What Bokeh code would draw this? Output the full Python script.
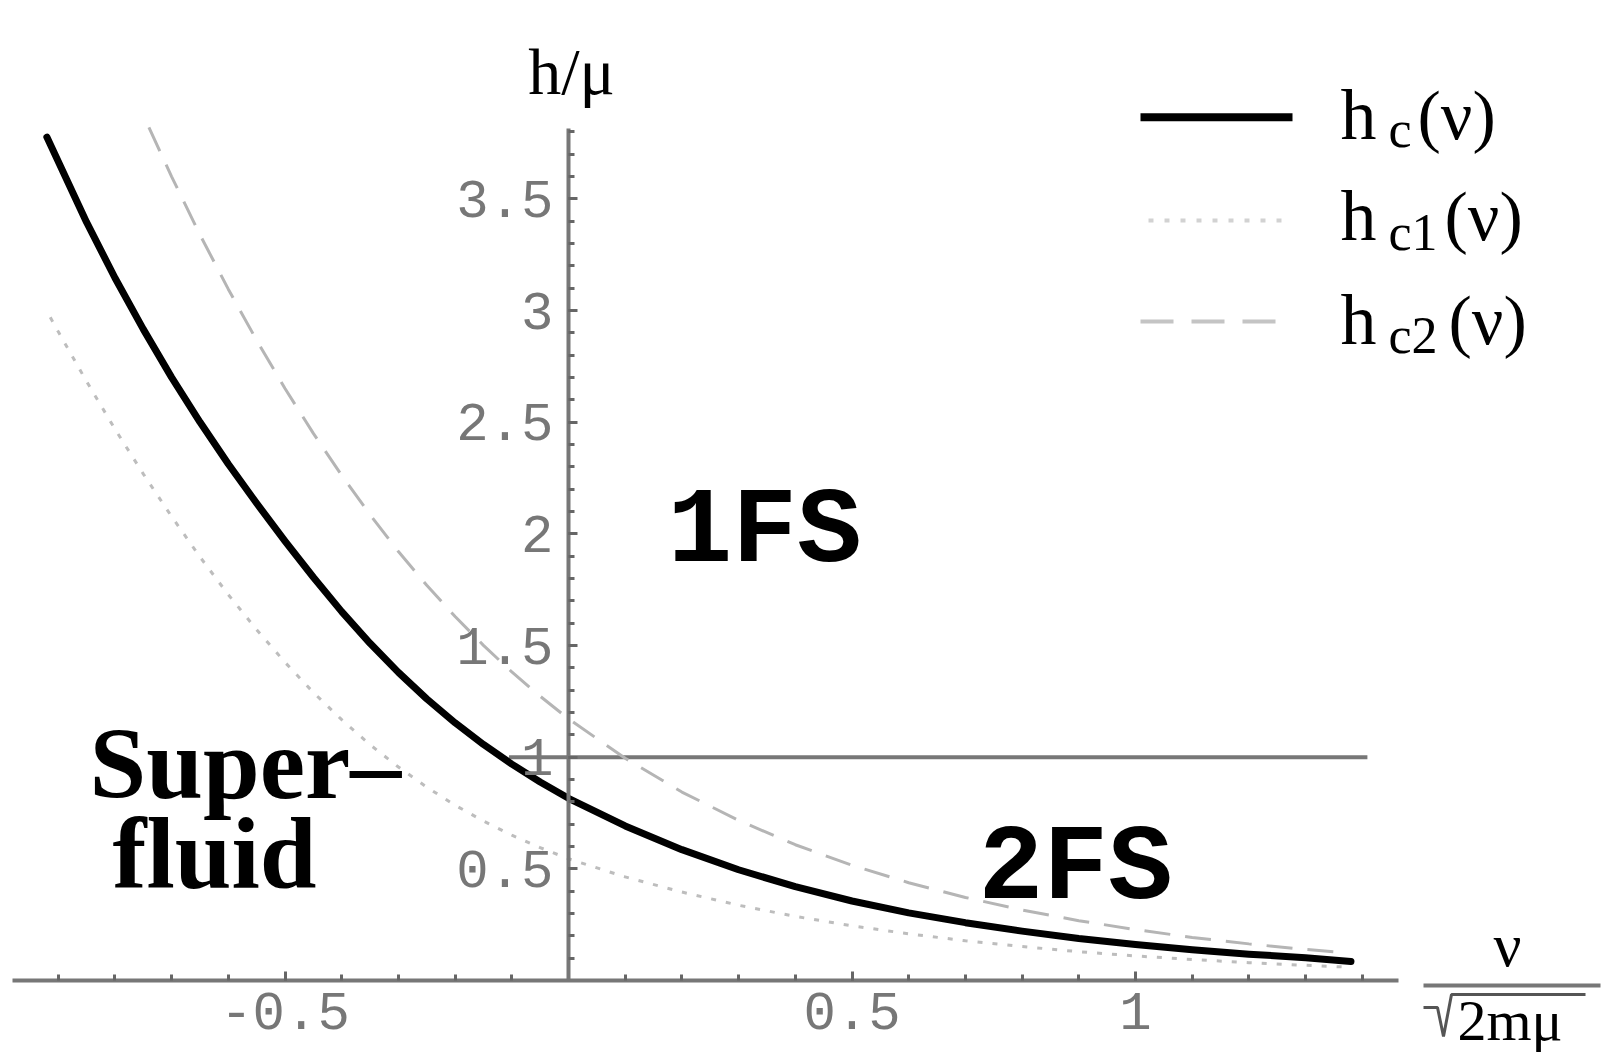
from bokeh.plotting import figure
from bokeh.models import Range1d, FixedTicker, PrintfTickFormatter, Label
from bokeh.embed import file_html
from bokeh.resources import INLINE

# ---------------- data ----------------
# h_c(nu): solid black curve
hc_x = [-0.92, -0.85, -0.80, -0.75, -0.70, -0.65, -0.60, -0.55, -0.50, -0.45, -0.40,
        -0.35, -0.30, -0.25, -0.20, -0.15, -0.10, -0.05, 0.00, 0.10, 0.20, 0.30, 0.40,
        0.50, 0.60, 0.70, 0.80, 0.90, 1.00, 1.10, 1.20, 1.30, 1.38]
hc_y = [3.777, 3.396, 3.147, 2.917, 2.701, 2.501, 2.313, 2.137, 1.968, 1.806, 1.652,
        1.510, 1.380, 1.261, 1.154, 1.057, 0.969, 0.889, 0.816, 0.692, 0.586, 0.496, 0.420,
        0.356, 0.303, 0.259, 0.221, 0.188, 0.161, 0.138, 0.118, 0.102, 0.085]

# h_c1(nu): dotted curve
hc1_x = [-0.914, -0.90, -0.85, -0.80, -0.75, -0.70, -0.65, -0.60, -0.55, -0.50, -0.45,
         -0.40, -0.35, -0.30, -0.25, -0.20, -0.15, -0.10, -0.05, 0.00, 0.10, 0.20, 0.30,
         0.40, 0.50, 0.60, 0.70, 0.80, 0.90, 1.00, 1.10, 1.20, 1.30, 1.373]
hc1_y = [2.970, 2.906, 2.683, 2.470, 2.269, 2.078, 1.897, 1.728, 1.571, 1.425, 1.290,
         1.168, 1.056, 0.956, 0.866, 0.785, 0.714, 0.651, 0.595, 0.545, 0.464, 0.396, 0.337,
         0.287, 0.245, 0.209, 0.178, 0.152, 0.129, 0.110, 0.094, 0.080, 0.068, 0.060]

# h_c2(nu): dashed curve
hc2_x = [-0.74, -0.70, -0.65, -0.60, -0.55, -0.50, -0.45, -0.40, -0.35, -0.30, -0.25,
         -0.20, -0.15, -0.10, -0.05, 0.00, 0.10, 0.20, 0.30, 0.40, 0.50, 0.60, 0.70,
         0.80, 0.90, 1.00, 1.10, 1.20, 1.30, 1.362]
hc2_y = [3.820, 3.600, 3.340, 3.096, 2.867, 2.651, 2.450, 2.262, 2.086, 1.921, 1.770,
         1.630, 1.501, 1.382, 1.273, 1.172, 0.995, 0.844, 0.717, 0.608, 0.516, 0.438, 0.372,
         0.316, 0.268, 0.228, 0.193, 0.164, 0.139, 0.126]

# h = mu boundary line
hmu_x = [-0.105, 1.409]
hmu_y = [1.0, 1.0]

x_ticks = [-0.5, 0.5, 1]
x_minor = [-0.9, -0.8, -0.7, -0.6, -0.5, -0.4, -0.3, -0.2, -0.1, 0.1, 0.2, 0.3, 0.4,
           0.5, 0.6, 0.7, 0.8, 0.9, 1.0, 1.1, 1.2, 1.3, 1.4]
y_ticks = [0.5, 1, 1.5, 2, 2.5, 3, 3.5]
y_minor = [0.1, 0.2, 0.3, 0.4, 0.5, 0.6, 0.7, 0.8, 0.9, 1.0, 1.1, 1.2, 1.3, 1.4, 1.5,
           1.6, 1.7, 1.8, 1.9, 2.0, 2.1, 2.2, 2.3, 2.4, 2.5, 2.6, 2.7, 2.8, 2.9, 3.0,
           3.1, 3.2, 3.3, 3.4, 3.5, 3.6, 3.7, 3.8]

legend_labels = [("h", "c", "(ν)"), ("h", "c1", "(ν)"), ("h", "c2", "(ν)")]

W, H = 1608, 1059


# helpers: reference pixel -> data (used only to place annotations)
def X(px):
    return (px - 568.0) / 567.0


def Y(py):
    return (980.0 - py) / 223.3


p = figure(width=W, height=H, output_backend="svg", toolbar_location=None,
           x_range=Range1d(X(0), X(W)), y_range=Range1d(Y(H), Y(0)),
           min_border=0)
p.outline_line_color = None
p.grid.visible = False
p.background_fill_color = "white"
p.border_fill_color = "white"

SERIF = "Liberation Serif"
MONO = "Liberation Mono"


def lab(text, px, base, font, size, bold=False, align="left"):
    # the label box is centred on y; shift so that the baseline lands on `base`
    k = 0.3375 if font == SERIF else 0.2665
    cy = base - k * size
    p.add_layout(Label(x=X(px), y=Y(cy), text=text, text_font=font,
                       text_font_size=f"{size}px",
                       text_font_style="bold" if bold else "normal",
                       text_align=align, text_baseline="middle", text_color="black"))


AX = "#777777"
for ax, ticks, minor, bounds in ((p.xaxis[0], x_ticks, x_minor, (-0.981, 1.464)),
                                 (p.yaxis[0], y_ticks, y_minor, (0.0, 3.815))):
    ax.fixed_location = 0
    ax.bounds = bounds
    ax.ticker = FixedTicker(ticks=ticks, minor_ticks=minor)
    ax.formatter = PrintfTickFormatter(format="%g")
    ax.axis_line_color = AX
    ax.axis_line_width = 4
    ax.major_tick_in = 9
    ax.major_tick_out = 0
    ax.minor_tick_in = 6
    ax.minor_tick_out = 0
    ax.major_tick_line_color = "#666666"
    ax.major_tick_line_width = 3
    ax.minor_tick_line_color = "#666666"
    ax.minor_tick_line_width = 3
    ax.major_label_text_font = MONO
    ax.major_label_text_font_size = "54px"
    ax.major_label_text_color = "#777777"
p.xaxis[0].major_label_standoff = 12
p.yaxis[0].major_label_standoff = 15

DOT = dict(line_color="#bdbdbd", line_width=3, line_dash="5 10")
DASH = dict(line_color="#b5b5b5", line_width=3, line_dash="26 15")
SOLID = dict(line_color="black", line_width=7, line_join="round", line_cap="round")

# h = mu line
p.line(hmu_x, hmu_y, line_color=AX, line_width=4)
# curves
p.line(hc1_x, hc1_y, **DOT)
p.line(hc2_x, hc2_y, **DASH)
p.line(hc_x, hc_y, **SOLID)

# ---------- legend (manual, to get subscripts) ----------
p.line([X(1140), X(1292)], [Y(116.7), Y(116.7)], line_color="black", line_width=8)
p.line([X(1148), X(1282)], [Y(220), Y(220)], line_color="#d2d2d2", line_width=4,
       line_dash="5 11")
p.line([X(1140), X(1278)], [Y(321), Y(321)], line_color="#c4c4c4", line_width=4,
       line_dash="33 18")

rows = [(138.3, 147.0, 1417), (240.0, 250.0, 1444), (343.3, 353.0, 1448)]
for (main, sub, tail), (base, subbase, tailx) in zip(legend_labels, rows):
    lab(main, 1340, base, SERIF, 72)
    lab(sub, 1388, subbase, SERIF, 52)
    lab(tail, tailx, base, SERIF, 70)

# ---------- axis titles ----------
lab("h/μ", 571, 93, SERIF, 66, align="center")
lab("ν", 1507, 965, SERIF, 62, align="center")
p.line([X(1423), X(1600)], [Y(985), Y(985)], line_color=AX, line_width=4)
p.line([X(1423), X(1437), X(1443), X(1451), X(1585)],
       [Y(1007), Y(1007), Y(1036), Y(994), Y(994)], line_color="#555555", line_width=3)
lab("2mμ", 1457, 1040, SERIF, 58)

# ---------- region labels ----------
lab("1FS", 667, 560, MONO, 108, bold=True)
lab("2FS", 978, 897, MONO, 108, bold=True)
lab("Super–", 89, 797, SERIF, 102, bold=True)
lab("fluid", 112, 887, SERIF, 102, bold=True)

open("out.html", "w").write(file_html(p, INLINE))
